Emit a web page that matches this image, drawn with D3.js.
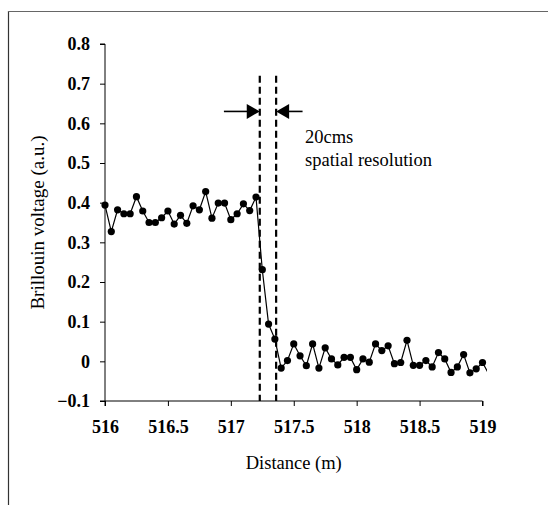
<!DOCTYPE html>
<html>
<head>
<meta charset="utf-8">
<script src="https://cdn.jsdelivr.net/npm/d3@7"></script>
<style>
  body { margin: 0; background: #fff; }
  text { font-family: "Liberation Serif", "Times New Roman", serif; fill: #000; }
</style>
</head>
<body>
<div id="chart"></div>
<script>
const width = 548;
const height = 505;

// distance (m), one reading every 5 cm from 516 m
const distances = d3.range(62).map(i => +(516 + i * 0.05).toFixed(2));
const voltages = [
  0.394, 0.327, 0.382, 0.372, 0.372, 0.415, 0.379, 0.350, 0.350, 0.362,
  0.379, 0.346, 0.368, 0.348, 0.392, 0.382, 0.428, 0.361, 0.399, 0.399,
  0.357, 0.372, 0.397, 0.380, 0.414, 0.231, 0.094, 0.056, -0.017, 0.002,
  0.044, 0.014, -0.011, 0.044, -0.017, 0.034, 0.006, -0.009, 0.010, 0.010,
  -0.021, 0.006, -0.002, 0.044, 0.027, 0.039, -0.006, -0.003, 0.053, -0.010,
  -0.010, 0.002, -0.014, 0.022, 0.006, -0.028, -0.014, 0.017, -0.029, -0.019,
  -0.003, -0.032
];
const xTicks = [516, 516.5, 517, 517.5, 518, 518.5, 519];
const yTicks = [-0.1, 0, 0.1, 0.2, 0.3, 0.4, 0.5, 0.6, 0.7, 0.8];

// annotation: the two dashed bounds and the arrows pointing at them
const boundaries = [517.23, 517.36];
const boundaryTop = 0.72;
const arrowLevel = 0.63;
const arrowTails = [516.945, 517.57];
const noteLines = ["20cms", "spatial resolution"];

const data = distances.map((d, i) => ({ x: d, y: voltages[i] }));

const svg = d3.select('#chart')
  .append('svg')
  .attr('width', width)
  .attr('height', height);

// scanned frame (left and top edges only)
svg.append('line')
  .attr('x1', 8.5).attr('x2', 8.5).attr('y1', 11).attr('y2', height)
  .attr('stroke', '#333').attr('stroke-width', 1.2);
svg.append('line')
  .attr('x1', 8).attr('x2', width).attr('y1', 11.5).attr('y2', 11.5)
  .attr('stroke', '#666').attr('stroke-width', 1);

const xScale = d3.scaleLinear().domain([516, 519]).range([105, 482.5]);
const yScale = d3.scaleLinear().domain([-0.1, 0.8]).range([401, 44]);

const xAxis = d3.axisBottom(xScale)
  .tickValues(xTicks)
  .tickSize(5)
  .tickPadding(14)
  .tickFormat(d3.format('~g'));

const yAxis = d3.axisLeft(yScale)
  .tickValues(yTicks)
  .tickSize(5)
  .tickPadding(10)
  .tickFormat(d => d3.format('~g')(+d.toFixed(1)));

const gx = svg.append('g')
  .attr('transform', `translate(0,${yScale(-0.1)})`)
  .call(xAxis);
const gy = svg.append('g')
  .attr('transform', `translate(${xScale(516)},0)`)
  .call(yAxis);

[gx, gy].forEach(g => {
  g.select('.domain').attr('stroke', '#000').attr('stroke-width', 1);
  g.selectAll('.tick line').attr('stroke', '#000');
  g.selectAll('.tick text')
    .style('font-family', '"Liberation Serif", serif')
    .style('font-size', '18px')
    .style('font-weight', 'bold')
    .attr('fill', '#000');
});
gy.select('.domain').attr('d', `M-5,${yScale(0.8)}H0V${yScale(-0.1)}H-5`);
gx.select('.domain').attr('d', `M${xScale(516)},5V0H${xScale(519)}V5`);

// axis titles
svg.append('text')
  .attr('x', (xScale(516) + xScale(519)) / 2)
  .attr('y', 469)
  .attr('text-anchor', 'middle')
  .style('font-size', '18.5px')
  .text('Distance (m)');

svg.append('text')
  .attr('transform', `translate(44,${(yScale(-0.1) + yScale(0.8)) / 2}) rotate(-90)`)
  .attr('text-anchor', 'middle')
  .style('font-size', '19px')
  .text('Brillouin voltage (a.u.)');

// dashed boundaries
svg.append('g').selectAll('line')
  .data(boundaries)
  .enter()
  .append('line')
  .attr('x1', d => xScale(d)).attr('x2', d => xScale(d))
  .attr('y1', yScale(boundaryTop)).attr('y2', yScale(-0.1))
  .attr('stroke', '#000')
  .attr('stroke-width', 2.2)
  .attr('stroke-dasharray', '7,4');

// arrows
const ay = yScale(arrowLevel);
boundaries.forEach((b, i) => {
  const tip = xScale(b);
  const tail = xScale(arrowTails[i]);
  const dir = tail < tip ? -1 : 1;
  svg.append('line')
    .attr('x1', tail).attr('x2', tip + dir * 10)
    .attr('y1', ay).attr('y2', ay)
    .attr('stroke', '#000').attr('stroke-width', 1.6);
  svg.append('path')
    .attr('d', `M${tip},${ay}L${tip + dir * 13},${ay - 7.5}L${tip + dir * 13},${ay + 7.5}Z`)
    .attr('fill', '#000');
});

svg.append('g').selectAll('text')
  .data(noteLines)
  .enter()
  .append('text')
  .attr('x', 305)
  .attr('y', (d, i) => 143 + i * 23)
  .style('font-size', '18.5px')
  .text(d => d);

// data series, clipped just past the last axis value
svg.append('clipPath').attr('id', 'plot-clip')
  .append('rect')
  .attr('x', xScale(516) - 6).attr('y', 30)
  .attr('width', xScale(519.035) - xScale(516) + 6)
  .attr('height', 380);

const plot = svg.append('g').attr('clip-path', 'url(#plot-clip)');

const line = d3.line().x(d => xScale(d.x)).y(d => yScale(d.y));

plot.append('path')
  .datum(data)
  .attr('d', line)
  .attr('fill', 'none')
  .attr('stroke', '#000')
  .attr('stroke-width', 1.2);

plot.append('g').selectAll('circle')
  .data(data.filter(d => d.x <= 519))
  .enter()
  .append('circle')
  .attr('cx', d => xScale(d.x))
  .attr('cy', d => yScale(d.y))
  .attr('r', 3.6)
  .attr('fill', '#000');
</script>
</body>
</html>
